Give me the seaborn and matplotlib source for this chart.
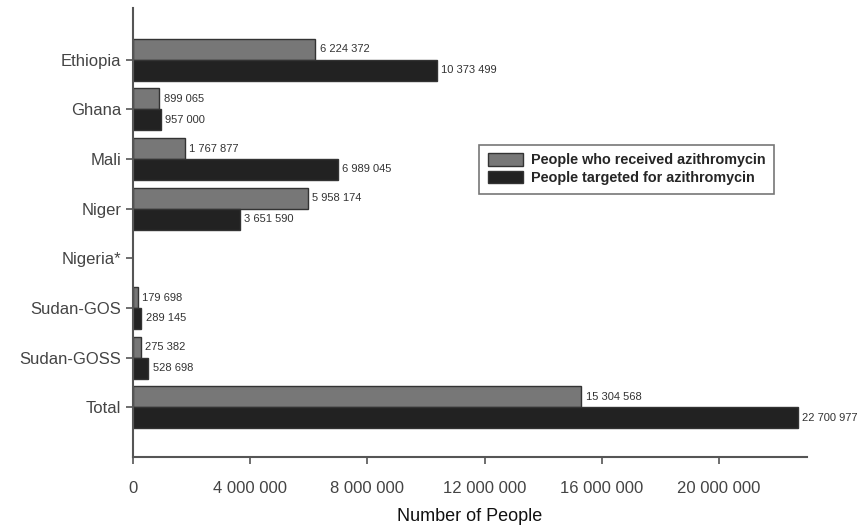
import numpy as np
import pandas as pd
import seaborn as sns
import matplotlib.pyplot as plt

countries = ['Ethiopia', 'Ghana', 'Mali', 'Niger', 'Nigeria*', 'Sudan-GOS', 'Sudan-GOSS', 'Total']
received = [6224372, 899065, 1767877, 5958174, np.nan, 179698, 275382, 15304568]
targeted = [10373499, 957000, 6989045, 3651590, np.nan, 289145, 528698, 22700977]
series = ['People who received azithromycin', 'People targeted for azithromycin']
colors = ['#777777', '#222222']

sns.set_theme(style='ticks')
plt.rcParams['font.family'] = ['Liberation Sans', 'DejaVu Sans']

df = pd.DataFrame({
    'country': countries * 2,
    'people': received + targeted,
    'series': [series[0]] * len(countries) + [series[1]] * len(countries),
})

fig = plt.figure(figsize=(8.67, 5.27), dpi=100)
ax = fig.add_axes([0.1534, 0.1328, 0.7774, 0.852])

sns.barplot(data=df, y='country', x='people', hue='series', order=countries,
            hue_order=series, palette=colors, orient='h', width=0.84,
            edgecolor='#333333', linewidth=1.0, saturation=1, ax=ax)

def fmt(v):
    return f"{int(round(v)):,}".replace(',', ' ')

for cont in ax.containers:
    labs = ['' if np.isnan(b.get_width()) else fmt(b.get_width()) for b in cont]
    ax.bar_label(cont, labels=labs, padding=3, fontsize=8, color='#333333')

ax.set_xlim(0, 23000000)
ax.set_ylim(7.5 + 0.5, -1.04)
ax.set_xticks([0, 4000000, 8000000, 12000000, 16000000, 20000000])
ax.set_xticklabels([fmt(t) for t in ax.get_xticks()])
ax.tick_params(axis='both', labelsize=12, colors='#555555', labelcolor='#444444',
               length=5, width=1.2, direction='out')
ax.tick_params(axis='x', pad=12)
ax.set_ylabel('')
ax.set_xlabel('Number of People', fontsize=13, color='#111111', labelpad=9)

for s in ['top', 'right']:
    ax.spines[s].set_visible(False)
for s in ['left', 'bottom']:
    ax.spines[s].set_color('#555555')
    ax.spines[s].set_linewidth(1.5)

leg = ax.legend(loc='upper left', bbox_to_anchor=(0.503, 0.712), frameon=True,
                fancybox=False, shadow=False, prop={'weight': 'bold', 'size': 10.4},
                handlelength=2.4, handleheight=0.95, handletextpad=0.55,
                labelspacing=0.25, borderpad=0.6)
leg.get_frame().set_edgecolor('#555555')
leg.get_frame().set_linewidth(1.2)

fig.savefig('out.png', dpi=100)
